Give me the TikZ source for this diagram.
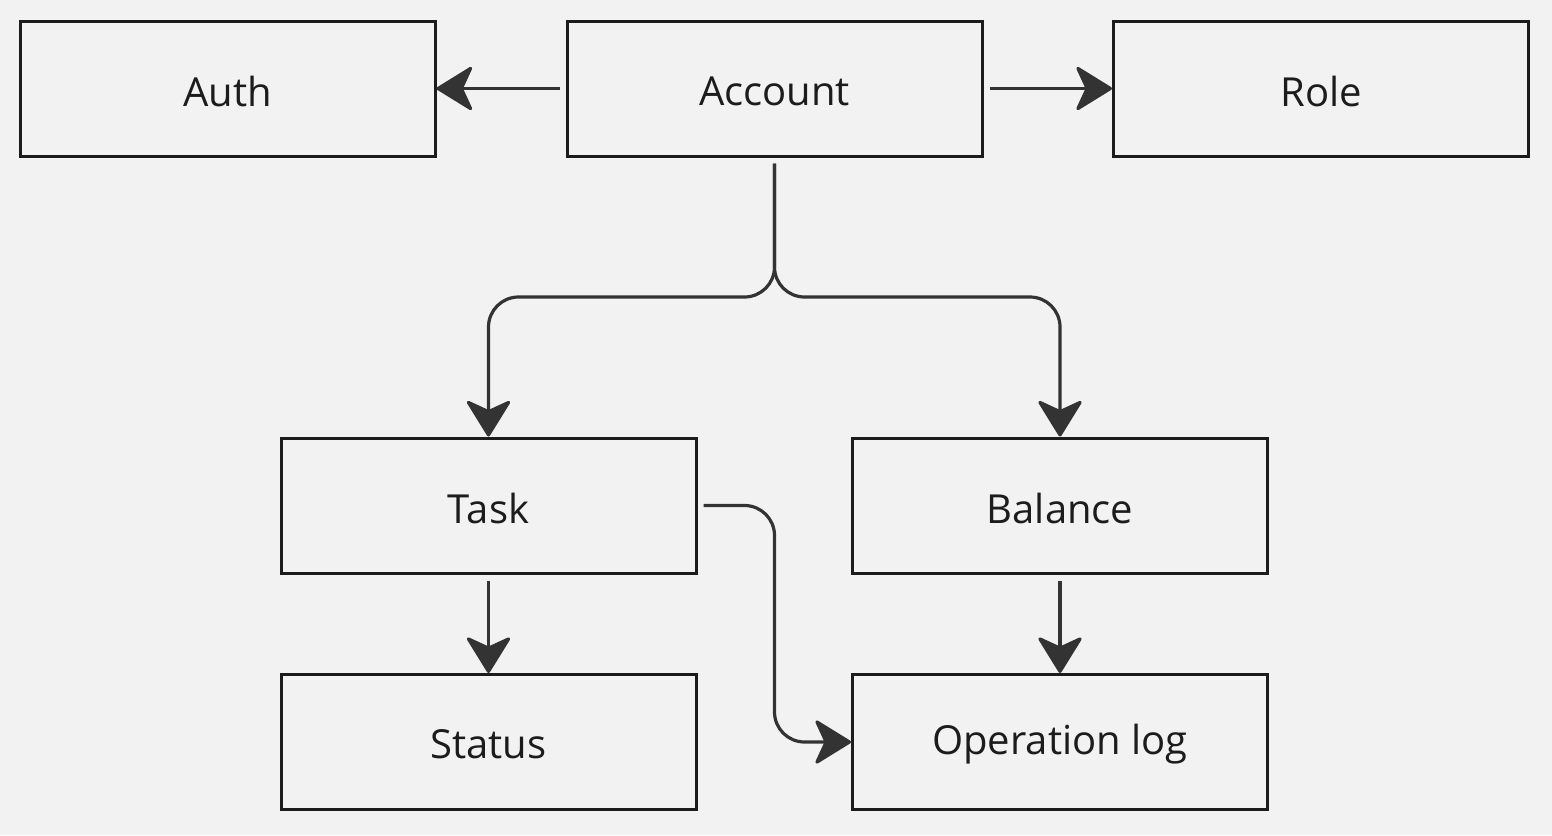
\documentclass[tikz,border=0pt]{standalone}
\usepackage{fontspec}
\setmainfont{Open Sans}
\usetikzlibrary{arrows.meta}
\definecolor{bg}{HTML}{F2F2F2}
\definecolor{edge}{HTML}{333333}
\definecolor{boxline}{HTML}{1C1C1C}
\begin{document}
\begin{tikzpicture}[x=1pt,y=-1pt,
  box/.style={draw=boxline,line width=3pt,fill=bg,minimum width=415pt,minimum height=135pt,inner sep=0pt,
    font=\fontsize{40}{48}\selectfont,text=boxline},
  lbl/.style={font=\fontsize{40}{48}\selectfont,text=boxline,inner sep=0pt},
  conn/.style={draw=edge,line width=3.2pt,rounded corners=30pt,
    -{Stealth[length=39pt,width=48pt,inset=11pt,round]}}]
\fill[bg] (0,0) rectangle (1552,835);
\useasboundingbox (0,0) rectangle (1552,835);
\node[box] (auth) at (227.5,88.5) {};
\node[box] (account) at (774.5,88.5) {};
\node[box] (role) at (1321,88.5) {};
\node[box] (task) at (488.5,505.5) {};
\node[box] (balance) at (1060,505.5) {};
\node[box] (status) at (488.5,742) {};
\node[box] (oplog) at (1060,742) {};
\node[lbl,yshift=-2.5pt] (authT) at (auth) {Auth};
\node[lbl,yshift=-2.5pt] (accountT) at (account) {Account};
\node[lbl,yshift=-2.5pt] (roleT) at (role) {Role};
\node[lbl,yshift=-2.5pt] (taskT) at (task) {Task};
\node[lbl,yshift=-2.5pt] (balanceT) at (balance) {Balance};
\node[lbl,yshift=-2.5pt] (statusT) at (status) {Status};
\node[lbl,yshift=-2.5pt] (oplogT) at (oplog) {Operation log};
\coordinate (split) at (774.5,297);
\coordinate (bend) at (774.5,505.5);
\draw[conn,shorten <=6pt] (account.west) -- (auth.east);
\draw[conn,shorten <=6pt] (account.east) -- (role.west);
\draw[conn,shorten <=6pt] (account.south) -- (split) -| (task.north);
\draw[conn,shorten <=6pt] (account.south) -- (split) -| (balance.north);
\draw[conn,shorten <=6pt] (task.south) -- (status.north);
\draw[conn,shorten <=6pt] (balance.south) -- (oplog.north);
\draw[conn,shorten <=6pt] (task.east) -- (bend) |- (oplog.west);
\end{tikzpicture}
\end{document}
